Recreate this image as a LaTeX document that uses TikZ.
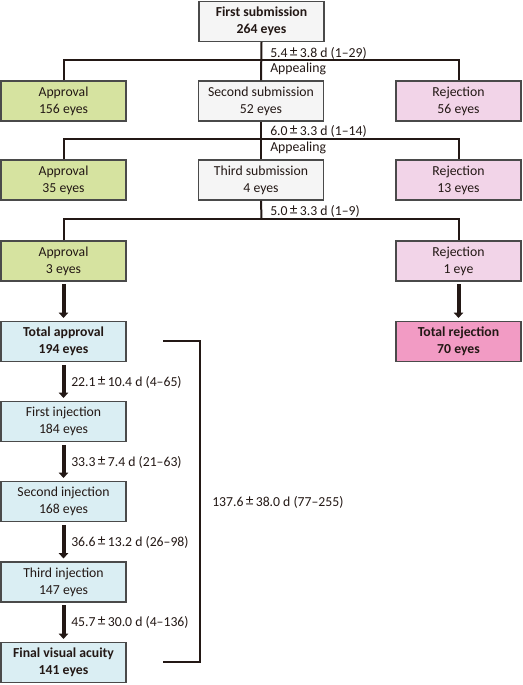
\documentclass[tikz,border=0pt]{standalone}
\usepackage{fontspec}
\setmainfont{Carlito}
\usetikzlibrary{arrows.meta,calc}
\definecolor{txt}{HTML}{231815}
\definecolor{grayfill}{HTML}{F5F5F5}
\definecolor{greenfill}{HTML}{D6E3A0}
\definecolor{pinkfill}{HTML}{F2D4E8}
\definecolor{bluefill}{HTML}{DAEEF3}
\definecolor{hotpink}{HTML}{F29BC4}
\definecolor{boxline}{HTML}{4A4A4A}
\tikzset{
  box/.style={draw=boxline,line width=0.9pt,minimum width=93.75pt,minimum height=30pt,inner sep=0pt,align=center,text=txt,font=\fontsize{10.3}{12.75}\selectfont},
  graybox/.style={box,fill=grayfill},
  greenbox/.style={box,fill=greenfill},
  pinkbox/.style={box,fill=pinkfill},
  bluebox/.style={box,fill=bluefill},
  hotbox/.style={box,fill=hotpink},
  tree/.style={draw=txt,line width=1.5pt},
  bigarrow/.style={draw=txt,line width=3pt,-{Triangle[width=7pt,length=4pt]},shorten <=2pt,shorten >=2.2pt},
  lbl/.style={anchor=west,inner sep=0pt,text=txt,font=\fontsize{10.3}{12}\selectfont}
}
\newcommand{\pmx}{\,\raisebox{0.1ex}{\fontsize{11.5}{12}\selectfont ±}\,}
\begin{document}
\begin{tikzpicture}[x=0.75pt,y=-0.75pt]
\useasboundingbox (0,0) rectangle (522,685);
% row 0
\node[graybox] (fs) at (261.5,21.5) {\textbf{First submission}\\\textbf{264 eyes}};
% row 1
\node[greenbox] (a1) at (63.5,101) {Approval\\156 eyes};
\node[graybox] (ss) at (261,101) {Second submission\\52 eyes};
\node[pinkbox] (r1) at (458.5,101) {Rejection\\56 eyes};
% row 2
\node[greenbox] (a2) at (63.5,180) {Approval\\35 eyes};
\node[graybox] (ts) at (261,180) {Third submission\\4 eyes};
\node[pinkbox] (r2) at (458.5,180) {Rejection\\13 eyes};
% row 3
\node[greenbox] (a3) at (63.5,261) {Approval\\3 eyes};
\node[pinkbox] (r3) at (458.5,261) {Rejection\\1 eye};
% totals
\node[bluebox] (ta) at (63.5,341.5) {\textbf{Total approval}\\\textbf{194 eyes}};
\node[hotbox] (tr) at (458.5,341.5) {\textbf{Total rejection}\\\textbf{70 eyes}};
% injections
\node[bluebox] (i1) at (63.5,421.5) {First injection\\184 eyes};
\node[bluebox] (i2) at (63.5,501.5) {Second injection\\168 eyes};
\node[bluebox] (i3) at (63.5,582) {Third injection\\147 eyes};
\node[bluebox] (fv) at (63.5,662.5) {\textbf{Final visual acuity}\\\textbf{141 eyes}};
% junctions
\coordinate (j1) at (261.5,60);
\coordinate (j2) at (261.5,139);
\coordinate (j3) at (261.5,219);
% tree lines
\draw[tree] (fs.south) -- (ss.north);
\draw[tree] (a1.north) |- (j1) -| (r1.north);
\draw[tree] (ss.south) -- (ts.north);
\draw[tree] (a2.north) |- (j2) -| (r2.north);
\draw[tree] (ts.south) -- (j3);
\draw[tree] (a3.north) |- (j3) -| (r3.north);
% tree labels
\node[lbl] (l1) at (270,53) {5.4\pmx 3.8 d (1–29)};
\node[lbl] (l1b) at (270,69) {Appealing};
\node[lbl] (l2) at (270,131) {6.0\pmx 3.3 d (1–14)};
\node[lbl] (l2b) at (270,148) {Appealing};
\node[lbl] (l3) at (270,211) {5.0\pmx 3.3 d (1–9)};
% big arrows
\draw[bigarrow] (a3.south) -- (ta.north);
\draw[bigarrow] (r3.south) -- (tr.north);
\draw[bigarrow] (ta.south) -- (i1.north);
\draw[bigarrow] (i1.south) -- (i2.north);
\draw[bigarrow] (i2.south) -- (i3.north);
\draw[bigarrow] (i3.south) -- (fv.north);
% arrow labels
\node[lbl] (d1) at (71,382) {22.1\pmx 10.4 d (4–65)};
\node[lbl] (d2) at (71,462) {33.3\pmx 7.4 d (21–63)};
\node[lbl] (d3) at (71,542) {36.6\pmx 13.2 d (26–98)};
\node[lbl] (d4) at (71,622) {45.7\pmx 30.0 d (4–136)};
% bracket
\coordinate (b1) at (163,341);
\coordinate (b2) at (200,341);
\coordinate (b3) at (200,662);
\coordinate (b4) at (163,662);
\draw[tree] (b1) -- (b2) -- (b3) -- (b4);
\node[lbl] (bl) at (212,502) {137.6\pmx 38.0 d (77–255)};
\end{tikzpicture}
\end{document}
